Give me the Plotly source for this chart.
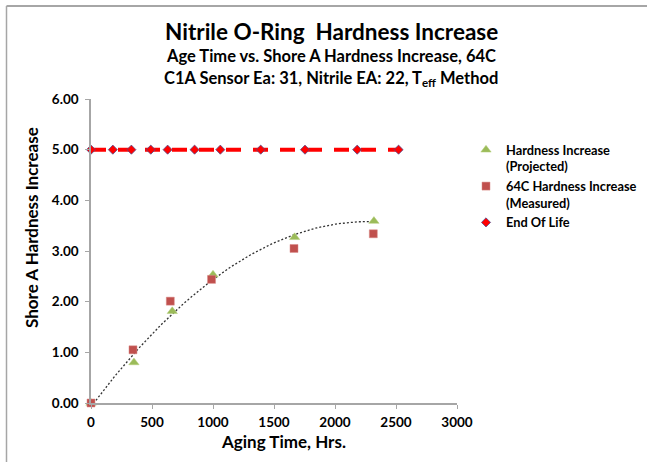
import numpy as np
import plotly.graph_objects as go

# Data
proj_x = [0, 352, 666, 1000, 1669, 2319]
proj_y = [0.0, 0.80, 1.81, 2.53, 3.27, 3.59]
meas_x = [0, 344, 650, 988, 1664, 2314]
meas_y = [0.0, 1.05, 2.01, 2.44, 3.05, 3.34]
eol_x = [0, 179, 331, 490, 628, 849, 1060, 1391, 1754, 2182, 2521]
eol_y = [5.0] * len(eol_x)
x_ticks = [0, 500, 1000, 1500, 2000, 2500, 3000]
y_ticks = [0, 1, 2, 3, 4, 5, 6]

# Polynomial (order 2) trendline of the projected series, as in the source chart
coef = np.polyfit(proj_x, proj_y, 2)
trend_x = np.linspace(min(proj_x), max(proj_x), 120)
trend_y = np.polyval(coef, trend_x)

FONT = "Lato"
W, H = 648, 462
L, R, T, B = 91, 457, 99, 403

fig = go.Figure()
fig.add_trace(go.Scatter(x=trend_x, y=trend_y, mode="lines", showlegend=False,
                         line=dict(color="#333333", width=1.3, dash="2px,2px"),
                         hoverinfo="skip"))
fig.add_trace(go.Scatter(x=eol_x, y=eol_y, mode="lines", showlegend=False,
                         line=dict(color="#FF0000", width=4, dash="15px,12px"),
                         cliponaxis=False, hoverinfo="skip"))
fig.add_trace(go.Scatter(x=proj_x, y=proj_y, mode="markers",
                         name="<b>Hardness Increase<br>(Projected)</b>",
                         marker=dict(symbol="triangle-up", size=9, color="#9BBB59",
                                     line=dict(color="#B5CF7A", width=0.5)),
                         cliponaxis=False))
fig.add_trace(go.Scatter(x=meas_x, y=meas_y, mode="markers",
                         name="<b>64C Hardness Increase<br>(Measured)</b>",
                         marker=dict(symbol="square", size=8, color="#C0504D",
                                     line=dict(color="#D98A88", width=0.5)),
                         cliponaxis=False))
fig.add_trace(go.Scatter(x=eol_x, y=eol_y, mode="markers", name="<b>End Of Life</b>",
                         marker=dict(symbol="diamond", size=7, color="#FF0000",
                                     line=dict(color="#4F4F8F", width=0.8)),
                         cliponaxis=False))

def px_x(p):
    return (p - L) / (R - L)

def px_y(p):
    return (B - p) / (B - T)

annos = [
    dict(text="Nitrile O-Ring  Hardness Increase", y=31, size=22.5),
    dict(text="Age Time vs. Shore A Hardness Increase, 64C", y=56, size=16.5),
    dict(text="C1A Sensor Ea: 31, Nitrile EA: 22, T<sub>eff</sub> Method", y=78, size=16.5),
]
for a in annos:
    fig.add_annotation(text="<b>" + a["text"] + "</b>", xref="paper", yref="paper",
                       x=px_x(331), y=px_y(a["y"]), xanchor="center", yanchor="middle",
                       showarrow=False, font=dict(family=FONT, size=a["size"], color="#000000"))

# axis titles (placed as in the source)
fig.add_annotation(text="<b>Shore A Hardness Increase</b>", xref="paper", yref="paper",
                   x=px_x(31), y=px_y(228), xanchor="center", yanchor="middle",
                   textangle=-90, showarrow=False,
                   font=dict(family=FONT, size=17, color="#000000"))
fig.add_annotation(text="<b>Aging Time, Hrs.</b>", xref="paper", yref="paper",
                   x=px_x(283), y=px_y(441), xanchor="center", yanchor="middle",
                   showarrow=False, font=dict(family=FONT, size=17, color="#000000"))

# outer border (top and left)
fig.add_shape(type="line", xref="paper", yref="paper", x0=px_x(6.5), x1=px_x(647),
              y0=px_y(6), y1=px_y(6), line=dict(color="#A6A6A6", width=2))
fig.add_shape(type="line", xref="paper", yref="paper", x0=px_x(6.5), x1=px_x(6.5),
              y0=px_y(6), y1=px_y(462), line=dict(color="#A6A6A6", width=1.5))

axis_common = dict(showgrid=False, zeroline=False, showline=True, linecolor="#A6A6A6",
                   linewidth=1.5, ticks="outside", tickcolor="#A6A6A6", ticklen=4,
                   automargin=False,
                   tickfont=dict(family=FONT, size=13.5, color="#000000"))
fig.update_xaxes(range=[0, 3000], tickvals=x_ticks, ticktext=[f"<b>{v}</b>" for v in x_ticks],
                 ticklabelstandoff=2, **axis_common)
fig.update_yaxes(range=[0, 6], tickvals=y_ticks, ticktext=[f"<b>{v:.2f}</b>" for v in y_ticks],
                 ticklabelstandoff=4, **axis_common)

fig.update_layout(
    width=W, height=H,
    margin=dict(l=L, r=W - R, t=T, b=H - B),
    paper_bgcolor="white", plot_bgcolor="white",
    font=dict(family=FONT, color="#000000"),
    legend=dict(xref="container", yref="container", x=466 / W, y=1 - 135 / H,
                xanchor="left", yanchor="top", valign="top",
                font=dict(family=FONT, size=12.8, color="#000000"),
                bgcolor="rgba(0,0,0,0)", itemwidth=30,
                traceorder="normal"),
    showlegend=True,
)
fig.write_html("out.html", config={"displayModeBar": False},
               post_script="document.body.style.margin='0px';")
